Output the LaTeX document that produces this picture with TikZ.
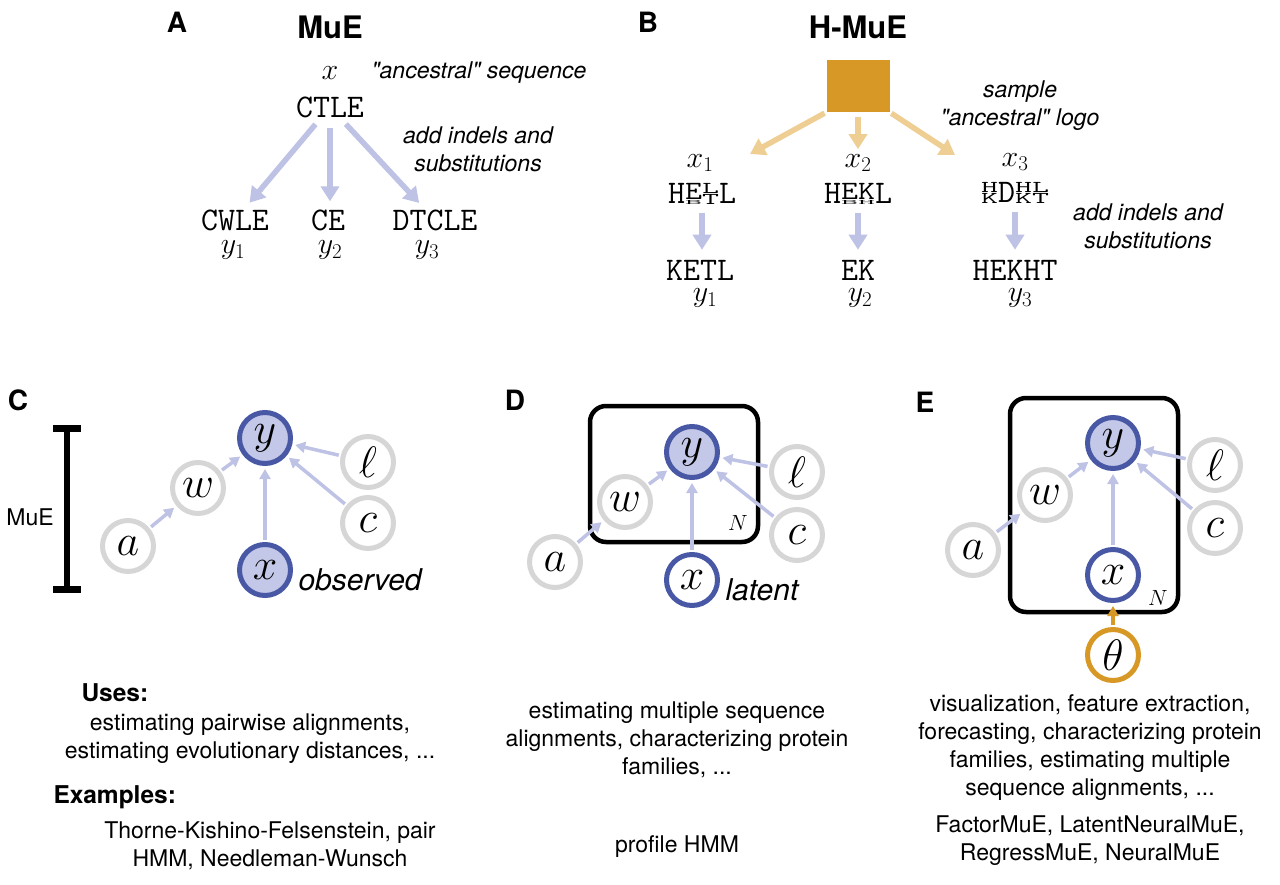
\RequirePackage{fix-cm}
\documentclass[tikz,border=0pt]{standalone}
\usepackage{fontspec}
\setmainfont{TeX Gyre Heros}
\newfontfamily\plainhv{TeX Gyre Heros}
\usepackage{graphicx}
\usetikzlibrary{arrows.meta, positioning, calc}

\definecolor{lav}{RGB}{190,194,228}
\definecolor{ringblue}{RGB}{72,88,165}
\definecolor{yfill}{RGB}{196,200,232}
\definecolor{ringgrey}{RGB}{214,214,214}
\definecolor{orng}{RGB}{215,152,38}
\definecolor{lorng}{RGB}{238,206,146}

% stacked logo letters
\newcommand{\stk}[2]{\ooalign{\raisebox{0.31em}{\scalebox{1}[0.5]{#1}}\cr\raisebox{-0.02em}{\scalebox{1}[0.5]{#2}}}}
\newcommand{\stkm}[2]{\ooalign{\raisebox{0.13em}{\scalebox{1}[0.8]{#1}}\cr\raisebox{-0.03em}{\scalebox{1}[0.2]{#2}}}}

\begin{document}
\begin{tikzpicture}[x=1pt, y=-1pt,
  panel/.style={font=\fontsize{28}{28}\selectfont\bfseries},
  ttl/.style={font=\fontsize{31}{31}\selectfont\bfseries},
  seq/.style={font=\fontsize{33}{33}\selectfont\ttfamily, inner sep=2pt},
  lbl/.style={font=\fontsize{30}{30}\selectfont, inner sep=1pt},
  note/.style={font=\fontsize{23}{28}\selectfont\plainhv\itshape, align=center},
  body/.style={font=\fontsize{23}{28}\selectfont, align=center},
  hd/.style={font=\fontsize{24.5}{28}\selectfont\bfseries},
  tag/.style={font=\fontsize{30}{30}\selectfont\itshape},
  hyp/.style={circle, draw=ringgrey, line width=5pt, fill=white, minimum size=51pt, inner sep=0pt, font=\fontsize{44}{44}\selectfont},
  obsv/.style={hyp, draw=ringblue, fill=yfill},
  latv/.style={hyp, draw=ringblue},
  prior/.style={hyp, draw=orng},
  plate/.style={draw=black, line width=4.5pt, rounded corners=16pt},
  bigarr/.style={draw=lav, line width=5.5pt, -{Triangle[width=18pt,length=15pt]}},
  orarr/.style={draw=lorng, line width=5.5pt, -{Triangle[width=18pt,length=15pt]}},
  edge/.style={draw=lav, line width=3.5pt, -{Triangle[width=11pt,length=10pt]}, shorten >=3pt, shorten <=2pt}]
\useasboundingbox (0,0) rectangle (1280,884);

% ---- A: MuE
\node[panel] (labA) at (177,22) {A};
\node[ttl] (mueA) at (330,27) {MuE};
\node[lbl] (xA) at (330,73) {$x$};
\node[note, anchor=west] (ancA) at (368,73) {"ancestral" sequence};
\node[seq] (ctle) at (330,107) {CTLE};
\node[note] (indA) at (478,149) {add indels and\\substitutions};
\node[seq] (cwle) at (235,220) {CWLE};
\node[seq] (ce) at (328,220) {CE};
\node[seq] (dtcle) at (435,220) {DTCLE};
\node[lbl] (y1A) at (233,250) {$y_1$};
\node[lbl] (y2A) at (330,250) {$y_2$};
\node[lbl] (y3A) at (427,250) {$y_3$};
\draw[bigarr, shorten <=6pt, shorten >=6pt] (ctle) -- (cwle);
\draw[bigarr, shorten <=8pt, shorten >=6pt] (ctle) -- (ctle |- ce.north);
\draw[bigarr, shorten <=6pt, shorten >=6pt] (ctle) -- (dtcle);

% ---- B: H-MuE
\node[panel] (labB) at (648,22) {B};
\node[ttl] (mueB) at (858,27) {H-MuE};
\node[fill=orng, minimum width=63pt, minimum height=52pt, inner sep=0pt] (logo) at (858,86) {};
\node[note] (smpB) at (1020,106) {sample\\"ancestral" logo};
\node[lbl] (x1B) at (700,163) {$x_1$};
\node[lbl] (x2B) at (858,163) {$x_2$};
\node[lbl] (x3B) at (1015,162) {$x_3$};
\node[seq] (s1) at (702,194) {H\stkm{E}{B}\stk{L}{T}L};
\node[seq] (s2) at (858,194) {H\stkm{E}{B}\stkm{K}{H}L};
\node[seq] (s3) at (1015,193) {\stk{H}{K}D\stk{H}{K}\stk{L}{T}};
\coordinate (t1) at (750,154);
\coordinate (t3) at (955,155);
\draw[orarr, shorten <=2pt] (logo.south west) -- (t1);
\draw[orarr, shorten <=5pt, shorten >=4pt] (logo.south) -- (logo.south |- x2B.north);
\draw[orarr, shorten <=2pt] (logo.south east) -- (t3);
\node[note] (indB) at (1148,226) {add indels and\\substitutions};
\node[seq] (ketl) at (700,270) {KETL};
\node[seq] (ek) at (858,270) {EK};
\node[seq] (hekht) at (1015,270) {HEKHT};
\node[lbl] (y1B) at (705,298) {$y_1$};
\node[lbl] (y2B) at (860,298) {$y_2$};
\node[lbl] (y3B) at (1020,298) {$y_3$};
\draw[bigarr, shorten <=6pt, shorten >=8pt] (s1) -- (s1 |- ketl.north);
\draw[bigarr, shorten <=6pt, shorten >=8pt] (s2) -- (s2 |- ek.north);
\draw[bigarr, shorten <=6pt, shorten >=8pt] (s3) -- (s3 |- hekht.north);

% ---- C: observed x
\node[panel] (labC) at (18,400) {C};
\draw[line width=6pt] (67,428) -- (67,589);
\draw[line width=7pt] (53,428) -- (81,428);
\draw[line width=7pt] (53,589) -- (81,589);
\node[body] (mueC) at (30,517) {MuE};
\node[obsv] (yC) at (265,438) {$y$};
\node[hyp] (wC) at (198,488) {$w$};
\node[hyp] (aC) at (128,546) {$a$};
\node[hyp] (lC) at (368,462) {$\ell$};
\node[hyp] (cC) at (368,523) {$c$};
\node[obsv] (xC) at (265,570) {$x$};
\node[tag, right=2pt of xC, yshift=-10pt] (obsC) {observed};
\draw[edge] (aC) -- (wC);
\draw[edge] (wC) -- (yC);
\draw[edge] (xC) -- (yC);
\draw[edge] (lC) -- (yC);
\draw[edge] (cC) -- (yC);

% ---- D: latent x, plate
\node[panel] (labD) at (515,400) {D};
\draw[plate] (590,406) rectangle (758,542);
\node[obsv] (yD) at (692,452) {$y$};
\node[hyp] (wD) at (625,502) {$w$};
\node[hyp] (aD) at (555,562) {$a$};
\node[hyp] (lD) at (797,472) {$\ell$};
\node[hyp] (cD) at (797,535) {$c$};
\node[latv] (xD) at (692,580) {$x$};
\node[font=\fontsize{22}{22}\selectfont] (nD) at (738,523) {$N$};
\node[tag, right=2pt of xD, yshift=-10pt] (latD) {latent};
\draw[edge] (aD) -- (wD);
\draw[edge] (wD) -- (yD);
\draw[edge] (xD) -- (yD);
\draw[edge] (lD) -- (yD);
\draw[edge] (cD) -- (yD);

% ---- E: prior on x
\node[panel] (labE) at (925,402) {E};
\draw[plate] (1010,398) rectangle (1178,612);
\node[obsv] (yE) at (1113,443) {$y$};
\node[hyp] (wE) at (1045,495) {$w$};
\node[hyp] (aE) at (973,550) {$a$};
\node[hyp] (lE) at (1215,465) {$\ell$};
\node[hyp] (cE) at (1215,528) {$c$};
\node[latv] (xE) at (1113,575) {$x$};
\node[font=\fontsize{22}{22}\selectfont] (nE) at (1158,598) {$N$};
\node[prior] (thE) at (1113,655) {$\theta$};
\draw[edge] (aE) -- (wE);
\draw[edge] (wE) -- (yE);
\draw[edge] (xE) -- (yE);
\draw[edge] (lE) -- (yE);
\draw[edge] (cE) -- (yE);
\draw[edge, draw=orng] (thE) -- (xE);

% ---- uses and examples
\node[hd, anchor=west] (usesC) at (78,693) {Uses:};
\node[body] (useC) at (250,739) {estimating pairwise alignments,\\estimating evolutionary distances, ...};
\node[hd, anchor=west] (exC) at (50,797) {Examples:};
\node[body] (exmC) at (270,846) {Thorne-Kishino-Felsenstein, pair\\HMM, Needleman-Wunsch};
\node[body] (useD) at (677,740) {estimating multiple sequence\\alignments, characterizing protein\\families, ...};
\node[body] (exmD) at (677,847) {profile HMM};
\node[body] (useE) at (1090,748) {visualization, feature extraction,\\forecasting, characterizing protein\\families, estimating multiple\\sequence alignments, ...};
\node[body] (exmE) at (1090,841) {FactorMuE, LatentNeuralMuE,\\RegressMuE, NeuralMuE};
\end{tikzpicture}
\end{document}
